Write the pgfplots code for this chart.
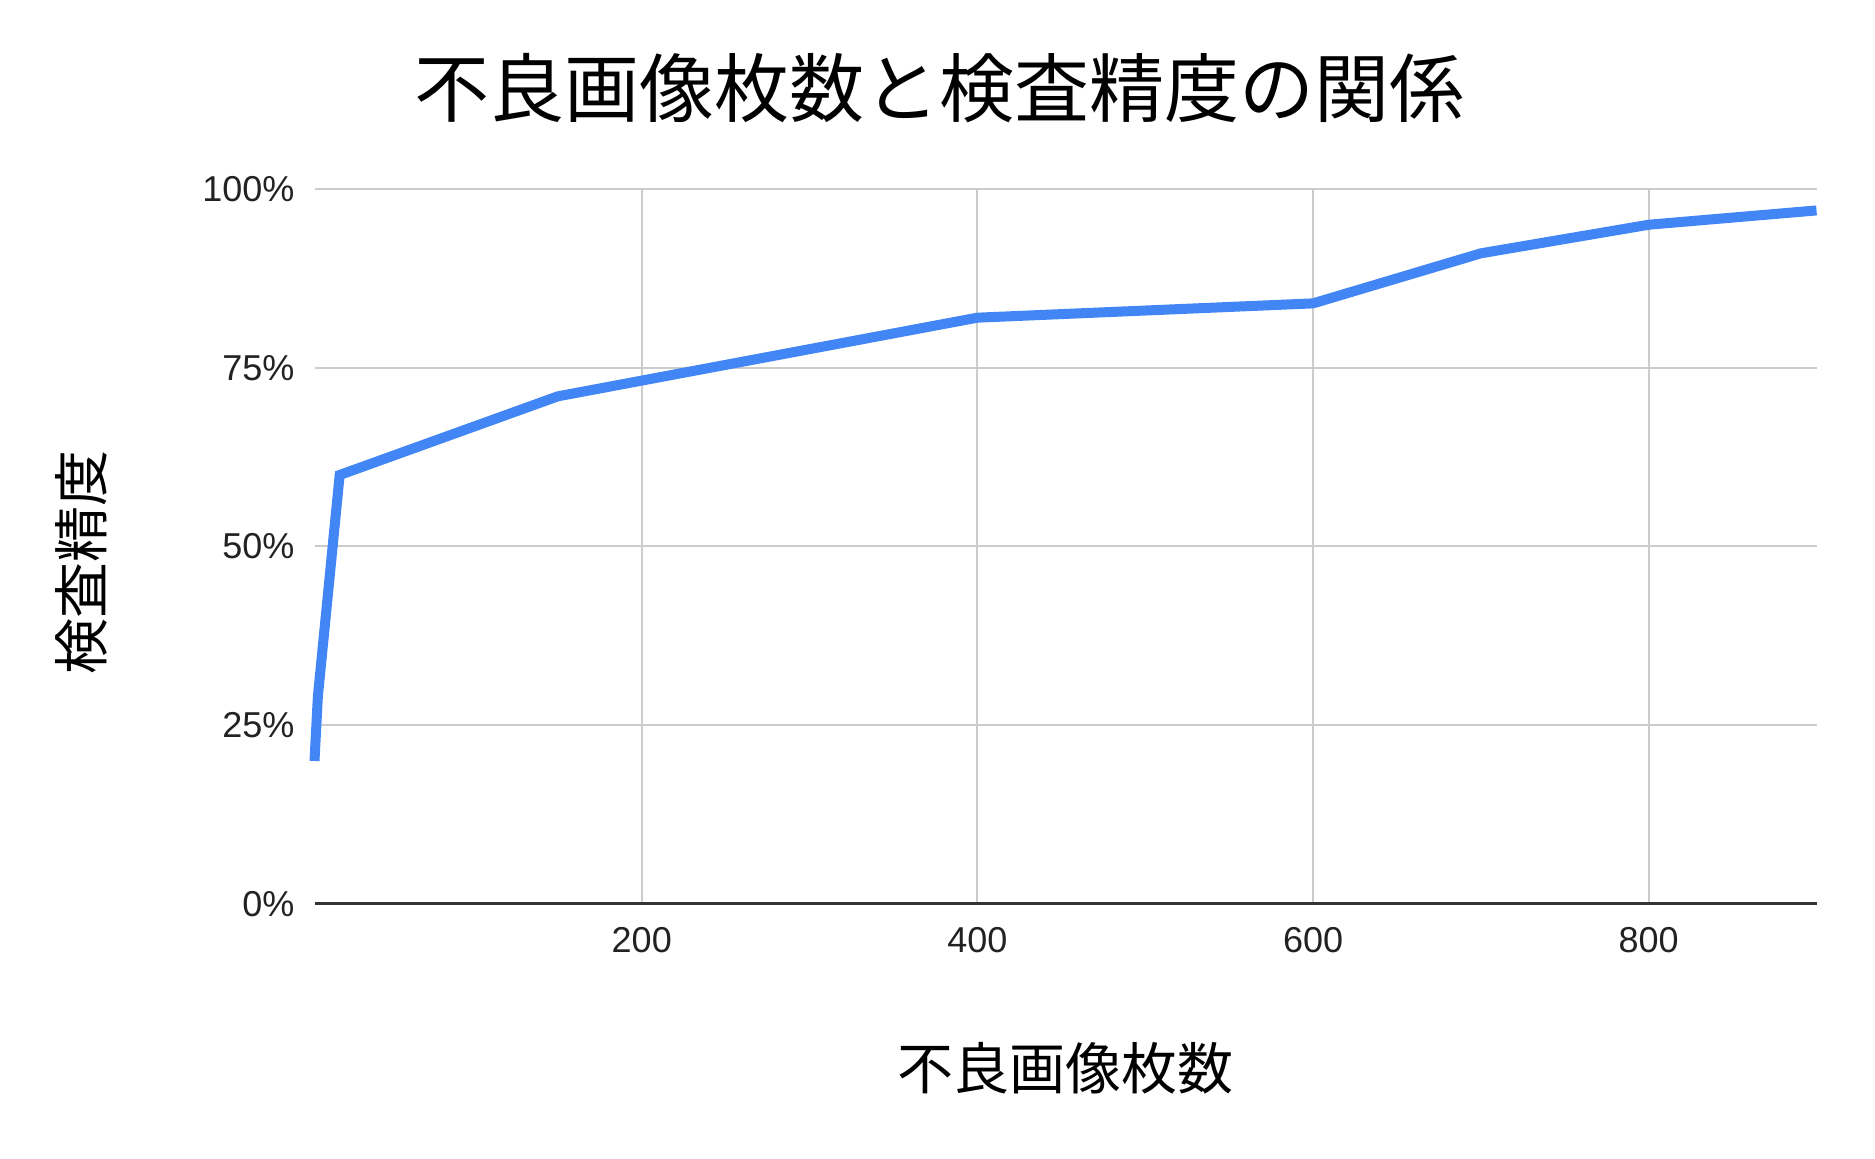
\documentclass[border=0pt]{standalone}
\usepackage{fontspec}
\setmainfont{Liberation Sans}
\newfontfamily\cjk{Noto Sans CJK JP}
\usepackage{pgfplots}
\pgfplotsset{compat=1.18}
\definecolor{gblue}{HTML}{4285F4}
\definecolor{gridc}{HTML}{CCCCCC}
\definecolor{axc}{HTML}{333333}
\definecolor{txt}{HTML}{222222}
\begin{document}
\begin{tikzpicture}
\useasboundingbox (0,0) rectangle (937.5pt,579.5pt);
\begin{axis}[
  at={(157.25pt,127.5pt)}, anchor=south west,
  scale only axis, width=751pt, height=357.5pt,
  xmin=5, xmax=900, ymin=0, ymax=100,
  axis x line*=bottom, axis y line*=left,
  x axis line style={-, draw=axc, line width=1.5pt},
  y axis line style={draw=none},
  xtick={200,400,600,800},
  ytick={0,25,50,75,100},
  yticklabels={0\%,25\%,50\%,75\%,100\%},
  major tick length=0pt,
  grid=major,
  major grid style={draw=gridc, line width=1pt},
  /pgf/number format/assume math mode=true,
  tick label style={font=\fontsize{18}{21}\selectfont, text=txt},
  xticklabel style={yshift=-8pt},
  yticklabel style={xshift=-6.5pt},
  title={\cjk 不良画像枚数と検査精度の関係},
  title style={at={(rel axis cs:0.4158,1.1245)}, anchor=center, font=\fontsize{37.5}{45}\selectfont},
  xlabel={\cjk 不良画像枚数},
  xlabel style={at={(rel axis cs:0.4997,-0.2294)}, anchor=center, font=\fontsize{28}{34}\selectfont},
  ylabel={\cjk 検査精度},
  ylabel style={at={(rel axis cs:-0.1555,0.478)}, anchor=center, rotate=0, font=\fontsize{28}{34}\selectfont},
  clip=false,
]
\addplot[draw=gblue, line width=5pt, mark=none] coordinates {
  (5,20) (7,29) (20,60) (150,71) (400,82) (600,84) (700,91) (800,95) (900,97)
};
\end{axis}
\end{tikzpicture}
\end{document}
